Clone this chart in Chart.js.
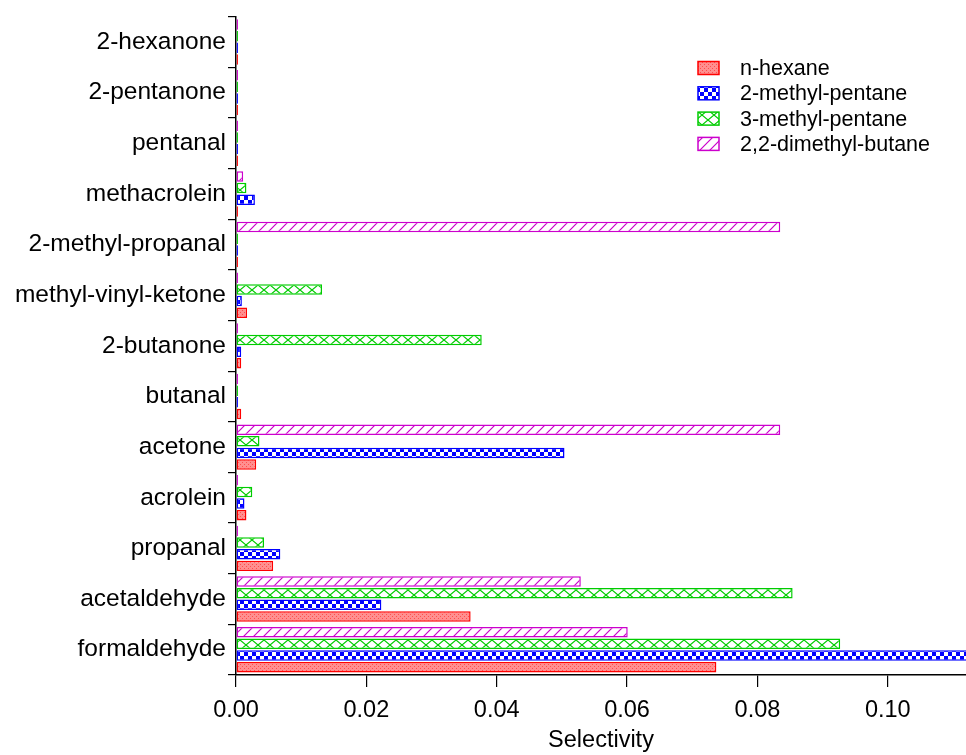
<!DOCTYPE html>
<html>
<head>
  <title>Selectivity</title>
  <style>
    body { margin: 0; background: #ffffff; }
    .chart-container { width: 966px; height: 755px; }
  </style>
</head>
<body>
  <div class="chart-container">
    <canvas id="selChart" width="966" height="755"></canvas>
  </div>

  <script src="https://cdn.jsdelivr.net/npm/chart.js"></script>
  <script>
    // categories listed top to bottom as in the figure
    const categories = ['2-hexanone', '2-pentanone', 'pentanal', 'methacrolein', '2-methyl-propanal',
      'methyl-vinyl-ketone', '2-butanone', 'butanal', 'acetone', 'acrolein', 'propanal',
      'acetaldehyde', 'formaldehyde'];

    const nHexane     = [0.0003, 0.0003, 0.0003, 0.0003, 0.0003, 0.0017, 0.0008, 0.0008, 0.0031, 0.0016, 0.0057, 0.0360, 0.0737];
    const methylPent2 = [0.0003, 0.0003, 0.0003, 0.0029, 0.0003, 0.0009, 0.0008, 0.0003, 0.0504, 0.0013, 0.0068, 0.0223, 0.1150];
    const methylPent3 = [0.0003, 0.0003, 0.0003, 0.0016, 0.0003, 0.0132, 0.0377, 0.0003, 0.0036, 0.0025, 0.0043, 0.0854, 0.0927];
    const dimethylBut = [0.0003, 0.0003, 0.0003, 0.0011, 0.0835, 0.0003, 0.0003, 0.0003, 0.0835, 0.0003, 0.0003, 0.0529, 0.0601];

    const xTicks = [0, 0.02, 0.04, 0.06, 0.08, 0.10];

    // fill patterns like the original plot
    function makePattern(kind) {
      const c = document.createElement('canvas');
      const g = c.getContext('2d');
      if (kind === 'dots') {
        c.width = 4; c.height = 4;
        g.fillStyle = '#ff8f8f'; g.fillRect(0, 0, 4, 4);
        g.fillStyle = '#ff4d4d';
        g.fillRect(0, 0, 1, 1); g.fillRect(2, 2, 1, 1);
      } else if (kind === 'checker') {
        c.width = 8; c.height = 8;
        g.fillStyle = '#ffffff'; g.fillRect(0, 0, 8, 8);
        g.fillStyle = '#0000ff';
        g.fillRect(0, 0, 4, 4); g.fillRect(4, 4, 4, 4);
      } else if (kind === 'cross') {
        c.width = 12; c.height = 10;
        g.fillStyle = '#ffffff'; g.fillRect(0, 0, 12, 10);
        g.strokeStyle = '#00cc00'; g.lineWidth = 1.2;
        g.beginPath();
        g.moveTo(0, 0); g.lineTo(12, 10);
        g.moveTo(12, 0); g.lineTo(0, 10);
        g.stroke();
      } else {
        c.width = 10; c.height = 10;
        g.fillStyle = '#ffffff'; g.fillRect(0, 0, 10, 10);
        g.strokeStyle = '#cc00cc'; g.lineWidth = 1.2;
        g.beginPath();
        g.moveTo(0, 10); g.lineTo(10, 0);
        g.moveTo(-5, 5); g.lineTo(5, -5);
        g.moveTo(5, 15); g.lineTo(15, 5);
        g.stroke();
      }
      return g.createPattern(c, 'repeat');
    }

    const FONT = 'Liberation Sans, Arial, sans-serif';

    // legend drawn inside the plot, top right
    const boxLegend = {
      id: 'boxLegend',
      afterDraw(chart) {
        const ctx = chart.ctx;
        const items = chart.data.datasets.slice().reverse();
        ctx.save();
        ctx.font = '21.5px ' + FONT;
        ctx.textBaseline = 'middle';
        ctx.fillStyle = '#000000';
        items.forEach((ds, i) => {
          const y = 68 + i * 25.3;
          ctx.fillStyle = ds.backgroundColor;
          ctx.fillRect(698, y - 6.5, 21, 13);
          ctx.strokeStyle = ds.borderColor;
          ctx.lineWidth = 1.5;
          ctx.strokeRect(698, y - 6.5, 21, 13);
          ctx.fillStyle = '#000000';
          ctx.fillText(ds.label, 740, y + 1);
        });
        ctx.restore();
      }
    };

    function bars(label, data, fill, border) {
      return {
        label: label,
        data: data,
        backgroundColor: fill,
        borderColor: border,
        borderWidth: 1.5,
        borderSkipped: false,
        categoryPercentage: 0.92,
        barPercentage: 0.9
      };
    }

    new Chart(document.getElementById('selChart').getContext('2d'), {
      type: 'bar',
      data: {
        labels: categories,
        // top to bottom inside each group
        datasets: [
          bars('2,2-dimethyl-butane', dimethylBut, makePattern('hatch'), '#cc00cc'),
          bars('3-methyl-pentane', methylPent3, makePattern('cross'), '#00cc00'),
          bars('2-methyl-pentane', methylPent2, makePattern('checker'), '#0000ff'),
          bars('n-hexane', nHexane, makePattern('dots'), '#ff0000')
        ]
      },
      options: {
        indexAxis: 'y',
        responsive: false,
        animation: false,
        layout: { padding: { top: 14, right: 0, left: 0, bottom: 0 } },
        plugins: {
          legend: { display: false },
          tooltip: { enabled: false }
        },
        scales: {
          x: {
            type: 'linear',
            min: 0,
            max: 0.112,
            afterFit: s => { s.height = 80; },
            afterBuildTicks: s => { s.ticks = xTicks.map(v => ({ value: v })); },
            ticks: {
              color: '#000000',
              font: { family: FONT, size: 23.5 },
              padding: 9,
              maxRotation: 0,
              callback: v => v.toFixed(2)
            },
            grid: { drawOnChartArea: false, color: '#000000', tickLength: 12, lineWidth: 1.2 },
            border: { display: true, color: '#000000', width: 1.5 },
            title: {
              display: true,
              text: 'Selectivity',
              color: '#000000',
              font: { family: FONT, size: 23.5 },
              padding: { top: 0, bottom: 0 }
            }
          },
          y: {
            type: 'category',
            afterFit: s => { s.width = 236; },
            ticks: {
              color: '#000000',
              font: { family: FONT, size: 24.5 },
              padding: 2,
              autoSkip: false
            },
            grid: { drawOnChartArea: false, offset: true, color: '#000000', tickLength: 8, lineWidth: 1.2 },
            border: { display: true, color: '#000000', width: 1.5 }
          }
        }
      },
      plugins: [boxLegend]
    });
  </script>
</body>
</html>
